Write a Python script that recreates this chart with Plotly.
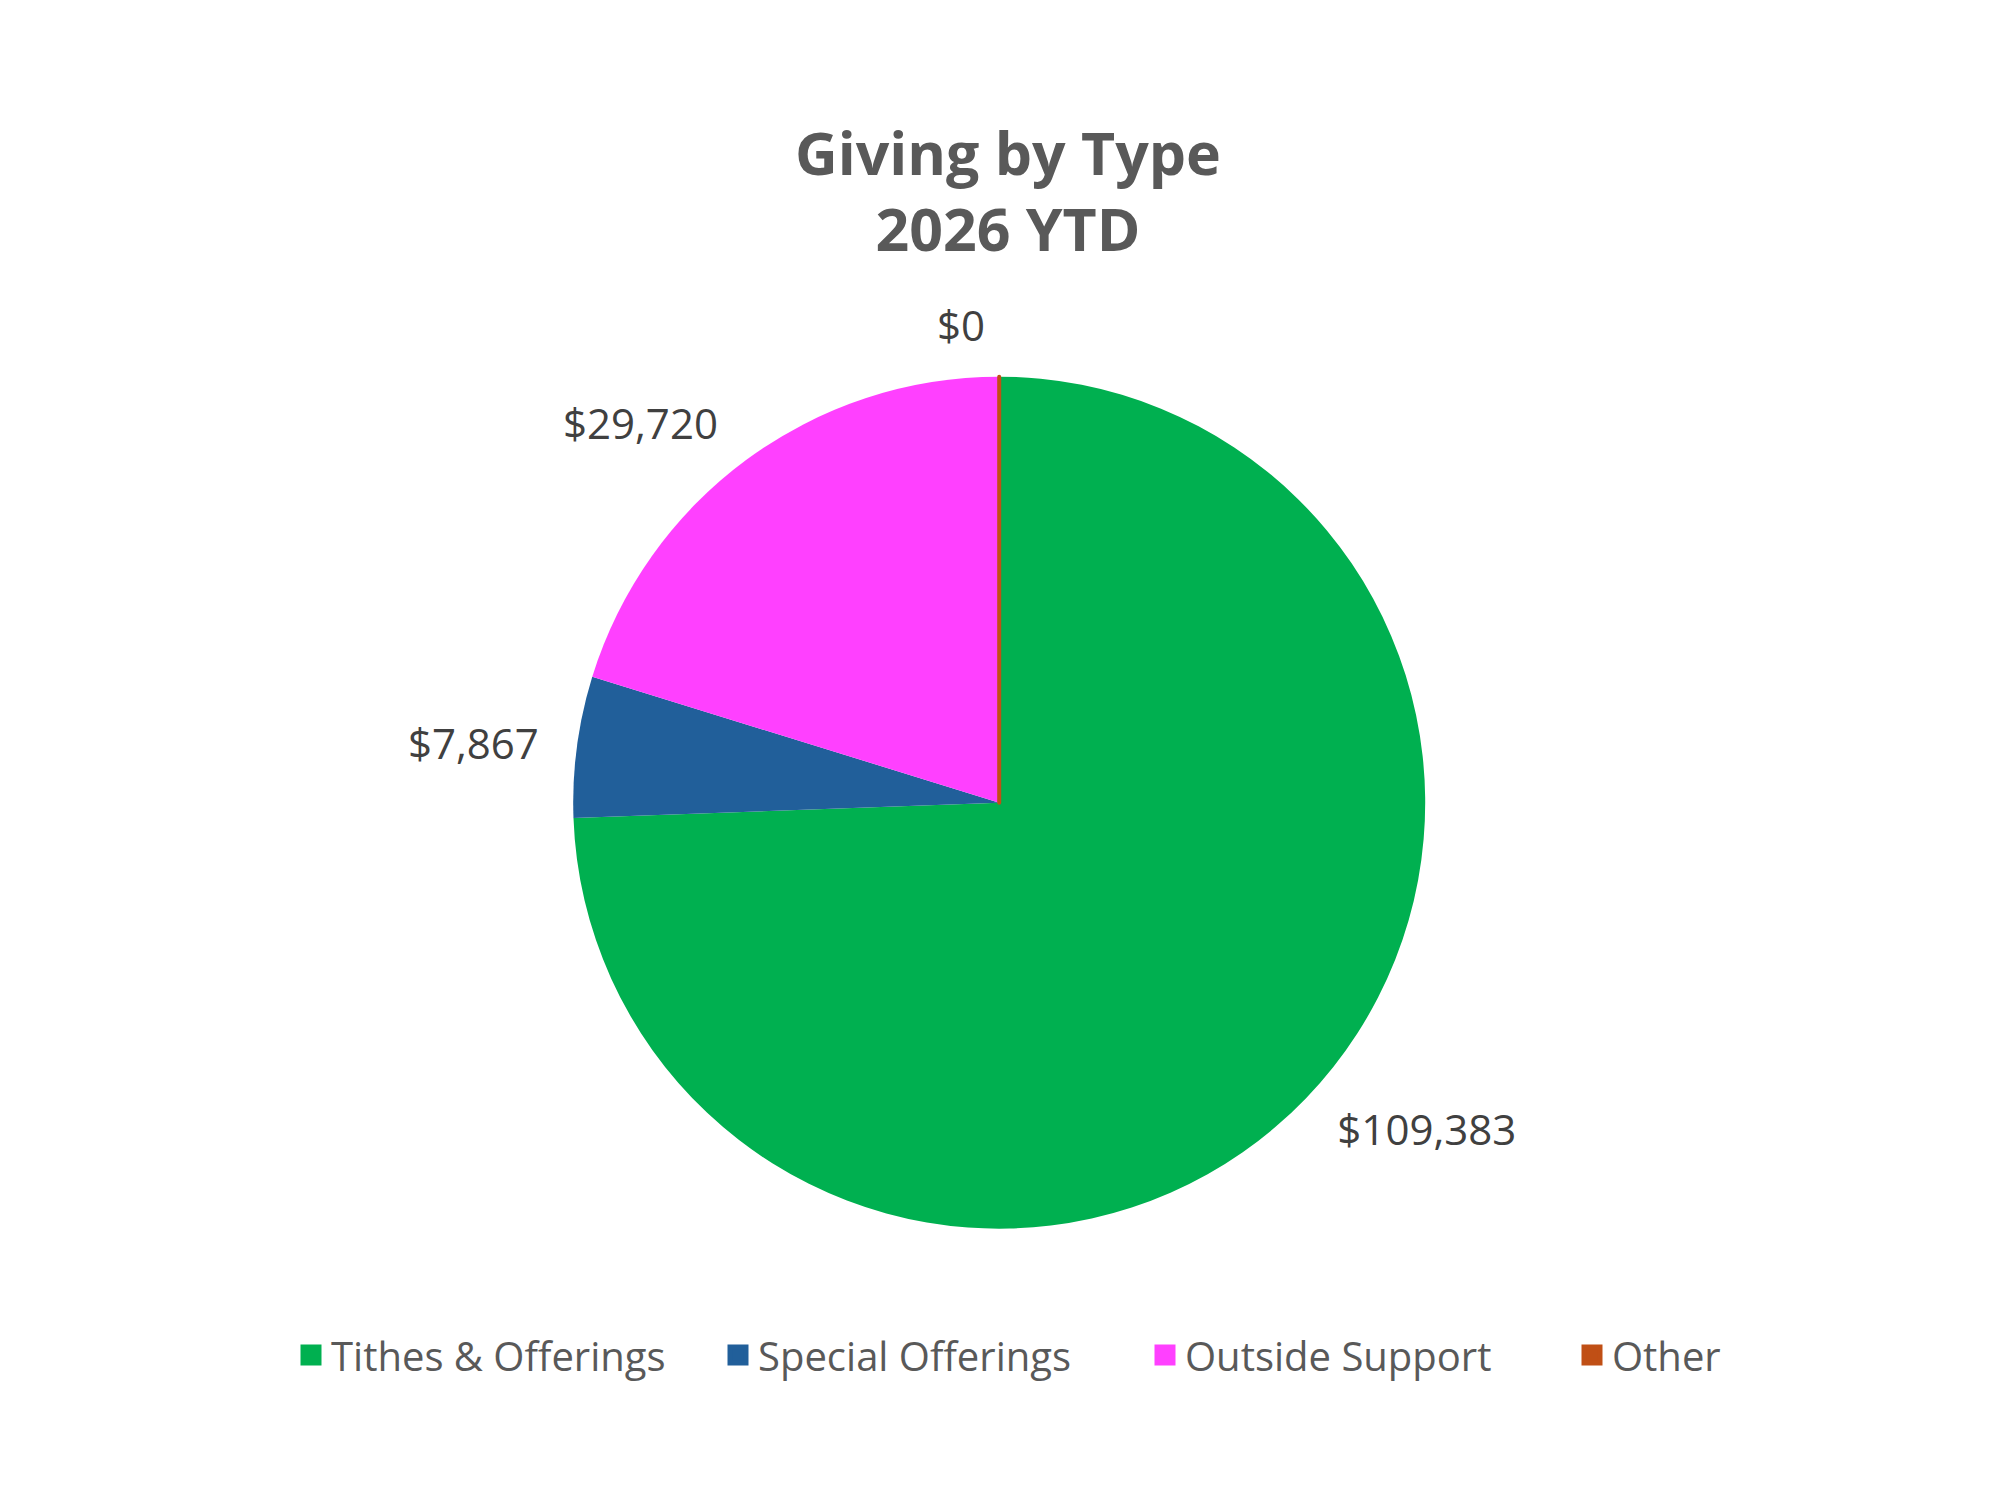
import plotly.graph_objects as go

# Data
categories = ["Tithes & Offerings", "Special Offerings", "Outside Support", "Other"]
amounts = [109383, 7867, 29720, 0]
colors = ["#00B050", "#215F9A", "#FF40FF", "#C04F15"]

pie_x = [0.2826, 0.7086]
pie_y = [0.1862, 0.7542]
label_pad = [0.012, 0.016]   # labels sit a bit further out than plotly's default

fig = go.Figure()

# the pie itself
fig.add_trace(
    go.Pie(
        labels=categories,
        values=amounts,
        sort=False,
        direction="clockwise",
        rotation=0,
        marker=dict(colors=colors, line=dict(color=colors, width=[0, 0, 0, 4])),
        textinfo="none",
        domain=dict(x=pie_x, y=pie_y),
        showlegend=False,
        hoverinfo="label+value",
    )
)

# same values again, transparent, only to carry the outside value labels
fig.add_trace(
    go.Pie(
        labels=categories,
        values=amounts,
        sort=False,
        direction="clockwise",
        rotation=0,
        marker=dict(colors=["rgba(0,0,0,0)"] * len(categories)),
        texttemplate="$%{value:,.0f}",
        textposition="outside",
        outsidetextfont=dict(color="#404040", size=42, family="Open Sans"),
        domain=dict(x=[pie_x[0] - label_pad[0], pie_x[1] + label_pad[0]],
                    y=[pie_y[0] - label_pad[1], pie_y[1] + label_pad[1]]),
        showlegend=False,
        hoverinfo="skip",
    )
)

# legend entries with bigger square swatches
for name, col in zip(categories, colors):
    fig.add_trace(
        go.Scatter(
            x=[None], y=[None],
            mode="markers",
            name=name,
            marker=dict(symbol="square", size=16, color=col, line=dict(color=col, width=9)),
            hoverinfo="skip",
        )
    )

fig.update_xaxes(visible=False)
fig.update_yaxes(visible=False)

fig.update_layout(
    width=2000,
    height=1500,
    paper_bgcolor="white",
    plot_bgcolor="white",
    margin=dict(l=0, r=0, t=0, b=0),
    title=dict(
        text="<b>Giving by Type<br>2026 YTD</b>",
        x=0.5,
        xanchor="center",
        y=0.889,
        yanchor="top",
        font=dict(family="Open Sans", size=59, color="#595959"),
    ),
    legend=dict(
        orientation="h",
        x=0.1415,
        xanchor="left",
        y=0.102,
        yanchor="middle",
        font=dict(family="Open Sans", size=40, color="#595959"),
        traceorder="normal",
        entrywidth=382,
        entrywidthmode="pixels",
    ),
    font=dict(family="Open Sans", color="#595959"),
)

fig.write_html("out.html")
